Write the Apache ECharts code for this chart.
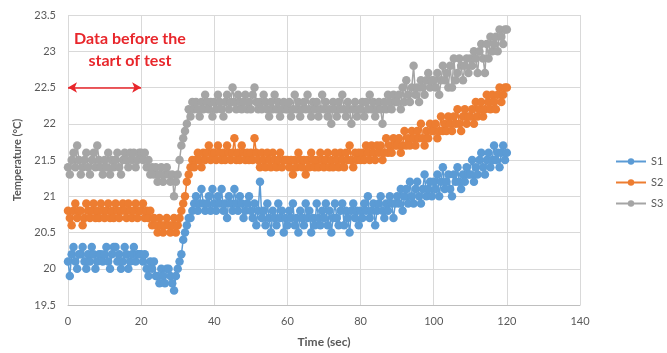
<!DOCTYPE html>
<html>
<head>
<meta charset="utf-8">
<script src="https://cdn.jsdelivr.net/npm/echarts@6/dist/echarts.min.js"></script>
<style>
  html, body { margin: 0; padding: 0; background: #fff; }
  #chart { width: 667px; height: 353px; }
</style>
</head>
<body>
<div id="chart"></div>
<script>
// Sensor readings, one every 0.5 s from t = 0 to t = 120 s
const SAMPLE_STEP = 0.5;

const seriesNames = ['S1', 'S2', 'S3'];

const s1 = [
  20.1, 19.9, 20.2, 20.3, 20.1, 20.0, 20.2, 20.2, 20.3, 20.1, 20.0, 20.2, 20.1, 20.3, 20.2, 20.0, 20.1, 20.2, 20.2, 20.1,
  20.2, 20.3, 20.1, 20.0, 20.2, 20.3, 20.3, 20.1, 20.2, 20.0, 20.1, 20.3, 20.2, 20.0, 20.1, 20.2, 20.3, 20.1, 20.2, 20.2,
  20.2, 20.1, 20.2, 20.0, 19.9, 20.1, 20.0, 20.1, 19.9, 19.9, 19.8, 20.0, 19.9, 19.8, 20.0, 20.0, 19.9, 19.8, 19.7, 19.9,
  20.0, 20.1, 20.2, 20.4, 20.5, 20.6, 20.7, 20.7, 20.8, 20.9, 21.0, 20.8, 20.9, 21.1, 20.9, 20.8, 20.9, 21.0, 20.8, 21.1,
  20.9, 20.8, 21.0, 20.9, 21.1, 20.8, 20.9, 20.7, 21.0, 20.9, 20.8, 21.1, 20.9, 20.8, 21.0, 20.9, 20.7, 20.8, 20.9, 21.0,
  20.8, 20.7, 20.9, 20.6, 20.8, 21.2, 20.7, 20.8, 20.6, 20.9, 20.7, 20.5, 20.8, 20.7, 20.6, 20.9, 20.7, 20.8, 20.5, 20.7,
  20.6, 20.8, 20.7, 20.9, 20.6, 20.7, 20.5, 20.8, 20.7, 20.6, 20.9, 20.7, 20.8, 20.5, 20.7, 20.6, 20.9, 20.7, 20.6, 20.8,
  20.7, 20.9, 20.6, 20.8, 20.5, 20.7, 20.9, 20.7, 20.6, 20.8, 20.9, 20.6, 20.8, 20.7, 20.5, 20.8, 20.9, 20.7, 20.8, 20.6,
  20.8, 20.7, 20.9, 20.8, 21.0, 20.7, 20.8, 20.9, 20.6, 20.8, 20.9, 21.0, 20.8, 20.7, 20.9, 20.8, 21.0, 20.9, 20.7, 20.9,
  21.0, 20.9, 21.1, 20.8, 21.0, 21.1, 20.9, 21.2, 21.0, 20.9, 21.1, 21.2, 21.0, 20.9, 21.1, 21.3, 21.0, 21.1, 21.2, 21.0,
  21.2, 21.1, 21.3, 21.0, 21.2, 21.4, 21.1, 21.2, 21.3, 21.1, 21.0, 21.3, 21.2, 21.4, 21.2, 21.1, 21.3, 21.2, 21.4, 21.3,
  21.3, 21.5, 21.2, 21.4, 21.3, 21.5, 21.6, 21.4, 21.3, 21.5, 21.6, 21.4, 21.5, 21.7, 21.5, 21.6, 21.4, 21.6, 21.7, 21.5,
  21.6
];

const s2 = [
  20.8, 20.7, 20.6, 20.8, 20.9, 20.7, 20.8, 20.8, 20.6, 20.7, 20.9, 20.8, 20.7, 20.8, 20.9, 20.7, 20.8, 20.7, 20.9, 20.8,
  20.7, 20.8, 20.9, 20.7, 20.8, 20.7, 20.9, 20.8, 20.7, 20.8, 20.9, 20.8, 20.7, 20.9, 20.8, 20.7, 20.8, 20.9, 20.7, 20.8,
  20.8, 20.9, 20.7, 20.8, 20.7, 20.8, 20.6, 20.7, 20.6, 20.5, 20.7, 20.6, 20.5, 20.6, 20.7, 20.6, 20.5, 20.6, 20.7, 20.5,
  20.6, 20.7, 20.8, 20.9, 21.0, 21.2, 21.3, 21.4, 21.5, 21.4, 21.5, 21.6, 21.5, 21.4, 21.6, 21.5, 21.6, 21.7, 21.5, 21.6,
  21.6, 21.5, 21.7, 21.6, 21.5, 21.6, 21.5, 21.7, 21.6, 21.5, 21.6, 21.8, 21.5, 21.6, 21.5, 21.7, 21.6, 21.5, 21.6, 21.5,
  21.6, 21.5, 21.8, 21.6, 21.5, 21.4, 21.6, 21.5, 21.4, 21.6, 21.5, 21.4, 21.6, 21.5, 21.4, 21.5, 21.6, 21.4, 21.5, 21.5,
  21.5, 21.4, 21.5, 21.3, 21.5, 21.4, 21.6, 21.5, 21.4, 21.5, 21.3, 21.5, 21.4, 21.6, 21.5, 21.4, 21.5, 21.4, 21.6, 21.5,
  21.4, 21.5, 21.6, 21.4, 21.5, 21.4, 21.6, 21.5, 21.4, 21.6, 21.5, 21.4, 21.6, 21.5, 21.7, 21.5, 21.4, 21.6, 21.5, 21.6,
  21.5, 21.6, 21.5, 21.7, 21.6, 21.5, 21.7, 21.6, 21.5, 21.7, 21.6, 21.7, 21.5, 21.6, 21.8, 21.6, 21.7, 21.6, 21.8, 21.7,
  21.7, 21.8, 21.6, 21.7, 21.9, 21.7, 21.8, 21.7, 21.9, 21.8, 21.7, 21.9, 21.8, 22.0, 21.8, 21.7, 21.9, 21.8, 22.0, 21.9,
  21.9, 22.0, 21.8, 21.9, 22.1, 21.9, 22.0, 21.9, 22.1, 22.0, 21.9, 22.1, 22.0, 22.2, 22.0, 21.9, 22.1, 22.2, 22.0, 22.1,
  22.1, 22.2, 22.0, 22.3, 22.1, 22.2, 22.3, 22.1, 22.2, 22.4, 22.3, 22.2, 22.4, 22.3, 22.2, 22.4, 22.5, 22.3, 22.4, 22.5,
  22.5
];

const s3 = [
  21.4, 21.3, 21.5, 21.6, 21.4, 21.7, 21.5, 21.3, 21.4, 21.5, 21.6, 21.4, 21.3, 21.5, 21.6, 21.4, 21.7, 21.5, 21.4, 21.3,
  21.5, 21.4, 21.6, 21.3, 21.5, 21.4, 21.5, 21.6, 21.4, 21.3, 21.5, 21.6, 21.5, 21.4, 21.6, 21.5, 21.6, 21.4, 21.5, 21.6,
  21.6, 21.5, 21.6, 21.4, 21.5, 21.3, 21.4, 21.3, 21.4, 21.2, 21.3, 21.4, 21.2, 21.3, 21.4, 21.3, 21.2, 21.3, 21.0, 21.2,
  21.3, 21.5, 21.7, 21.8, 21.9, 22.0, 22.2, 22.1, 22.3, 22.2, 22.3, 22.2, 22.1, 22.3, 22.2, 22.4, 22.3, 22.2, 22.3, 22.1,
  22.3, 22.2, 22.4, 22.3, 22.2, 22.1, 22.3, 22.4, 22.2, 22.3, 22.5, 22.3, 22.2, 22.4, 22.3, 22.2, 22.3, 22.4, 22.2, 22.3,
  22.2, 22.4, 22.5, 22.3, 22.2, 22.3, 22.2, 22.4, 22.3, 22.2, 22.1, 22.3, 22.2, 22.4, 22.2, 22.3, 22.1, 22.2, 22.3, 22.2,
  22.2, 22.3, 22.1, 22.2, 22.4, 22.2, 22.3, 22.1, 22.2, 22.3, 22.2, 22.4, 22.2, 22.1, 22.3, 22.2, 22.3, 22.1, 22.2, 22.4,
  22.2, 22.3, 22.1, 22.2, 22.0, 22.3, 22.2, 22.1, 22.3, 22.2, 22.4, 22.2, 22.1, 22.3, 22.2, 22.0, 22.2, 22.3, 22.1, 22.2,
  22.2, 22.3, 22.1, 22.3, 22.2, 22.4, 22.2, 22.3, 22.1, 22.2, 22.3, 22.2, 22.0, 22.3, 22.2, 22.4, 22.3, 22.2, 22.4, 22.3,
  22.3, 22.4, 22.2, 22.5, 22.3, 22.6, 22.4, 22.3, 22.5, 22.8, 22.4, 22.5, 22.3, 22.6, 22.5, 22.4, 22.6, 22.7, 22.5, 22.6,
  22.6, 22.5, 22.7, 22.4, 22.6, 22.8, 22.6, 22.7, 22.5, 22.8, 22.5, 22.9, 22.6, 22.7, 22.9, 22.8, 22.6, 22.8, 22.9, 22.7,
  22.9, 22.8, 23.0, 22.9, 22.7, 23.0, 23.1, 22.9, 22.7, 23.1, 22.9, 23.2, 23.0, 23.1, 23.2, 23.0, 23.3, 23.2, 23.1, 23.3,
  23.3
];

const seriesColors = ['#5b9bd5', '#ed7d31', '#a5a5a5'];

// x-axis and y-axis tick settings
const xTicks = { min: 0, max: 140, step: 20 };
const yTicks = { min: 19.5, max: 23.5, step: 0.5 };

// Bracket marking the pre-test period
const preTestRange = [0, 20];
const preTestLevel = 22.5;
const preTestLabel = 'Data before the\nstart of test';

function toPairs(values) {
  return values.map((v, i) => [i * SAMPLE_STEP, v]);
}

const axisTextColor = '#595959';
const gridColor = '#d9d9d9';
const fontFamily = 'Lato, "Open Sans", sans-serif';

const chart = echarts.init(document.getElementById('chart'), null, { renderer: 'canvas' });

const seriesData = [s1, s2, s3];
const series = seriesNames.map((name, k) => ({
  name: name,
  type: 'line',
  data: toPairs(seriesData[k]),
  symbol: 'circle',
  symbolSize: 8.5,
  showSymbol: true,
  lineStyle: { width: 1.5, color: seriesColors[k] },
  itemStyle: { color: seriesColors[k], borderWidth: 0 },
  emphasis: { disabled: true },
  z: 2 + k
}));

// Red double-headed arrow across the pre-test window
series.push({
  type: 'line',
  data: [],
  silent: true,
  z: 10,
  markLine: {
    silent: true,
    animation: false,
    symbol: ['arrow', 'arrow'],
    symbolSize: [8, 9],
    label: { show: false },
    lineStyle: { color: '#e8262b', width: 1.5, type: 'solid' },
    data: [[
      { coord: [preTestRange[0], preTestLevel] },
      { coord: [preTestRange[1], preTestLevel] }
    ]]
  }
});

chart.setOption({
  animation: false,
  backgroundColor: '#ffffff',
  textStyle: { fontFamily: fontFamily },
  grid: { left: 68, right: 87, top: 15, bottom: 48, containLabel: false },
  xAxis: {
    type: 'value',
    min: xTicks.min,
    max: xTicks.max,
    interval: xTicks.step,
    name: 'Time (sec)',
    nameLocation: 'middle',
    nameGap: 31,
    nameTextStyle: { color: axisTextColor, fontSize: 12, fontWeight: 'bold', fontFamily: fontFamily },
    axisLine: { show: true, lineStyle: { color: '#bfbfbf', width: 1 } },
    axisTick: { show: false },
    axisLabel: { color: axisTextColor, fontSize: 11, margin: 11, fontFamily: fontFamily },
    splitLine: { show: true, lineStyle: { color: gridColor, width: 1 } }
  },
  yAxis: {
    type: 'value',
    min: yTicks.min,
    max: yTicks.max,
    interval: yTicks.step,
    name: 'Temperature (°C)',
    nameLocation: 'middle',
    nameGap: 44,
    nameRotate: 90,
    nameTextStyle: { color: axisTextColor, fontSize: 11, fontWeight: 'bold', fontFamily: fontFamily },
    axisLine: { show: false },
    axisTick: { show: false },
    axisLabel: { color: axisTextColor, fontSize: 11, margin: 12, fontFamily: fontFamily },
    splitLine: { show: true, lineStyle: { color: gridColor, width: 1 } }
  },
  legend: {
    orient: 'vertical',
    left: 610,
    top: 151,
    itemWidth: 30,
    itemHeight: 8,
    itemGap: 10,
    data: seriesNames,
    textStyle: { color: axisTextColor, fontSize: 11, fontFamily: fontFamily }
  },
  graphic: [{
    type: 'text',
    left: 74,
    top: 28,
    style: {
      text: preTestLabel,
      fill: '#e8262b',
      font: 'bold 16px ' + fontFamily,
      textAlign: 'center',
      lineHeight: 22
    },
    z: 20
  }],
  series: series
});
</script>
</body>
</html>
